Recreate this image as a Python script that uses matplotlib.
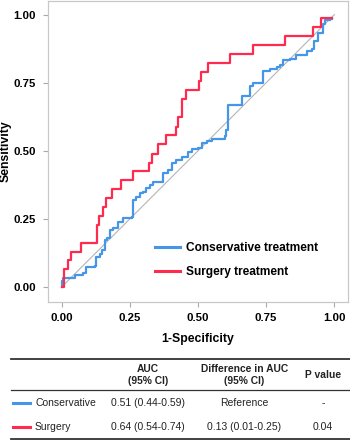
import matplotlib
matplotlib.use("Agg")
import matplotlib.pyplot as plt
from matplotlib.lines import Line2D

plt.rcParams['font.family'] = ['Liberation Sans', 'DejaVu Sans']

# ROC curve corners (x = 1-specificity, y = sensitivity after each riser)
cons_fpr = [0, 0, 0.005, 0.05, 0.078, 0.088, 0.121, 0.125, 0.14, 0.148, 0.158, 0.167,
            0.176, 0.189, 0.207, 0.225, 0.258, 0.261, 0.274, 0.287, 0.297, 0.311, 0.324,
            0.336, 0.372, 0.391, 0.403, 0.421, 0.44, 0.465, 0.477, 0.501, 0.514, 0.532,
            0.55, 0.599, 0.603, 0.611, 0.66, 0.689, 0.703, 0.738, 0.765, 0.789, 0.801,
            0.811, 0.838, 0.86, 0.9, 0.918, 0.926, 0.939, 0.958, 0.967, 0.985, 0.99]
cons_tpr = [0, 0.023, 0.032, 0.044, 0.053, 0.072, 0.078, 0.111, 0.12, 0.136, 0.173, 0.179,
            0.21, 0.216, 0.24, 0.252, 0.258, 0.32, 0.332, 0.344, 0.35, 0.363, 0.375,
            0.384, 0.418, 0.43, 0.455, 0.467, 0.479, 0.497, 0.506, 0.51, 0.528, 0.537,
            0.543, 0.555, 0.577, 0.669, 0.70, 0.737, 0.749, 0.792, 0.80, 0.806, 0.816,
            0.835, 0.837, 0.853, 0.865, 0.874, 0.902, 0.933, 0.967, 0.979, 0.984, 0.984]

surg_fpr = [0, 0.007, 0.023, 0.033, 0.07, 0.131, 0.136, 0.152, 0.162, 0.185, 0.219, 0.262,
            0.32, 0.33, 0.355, 0.381, 0.418, 0.428, 0.44, 0.456, 0.505, 0.51, 0.536,
            0.618, 0.70, 0.82, 0.92, 0.95, 0.99]
surg_tpr = [0, 0.065, 0.098, 0.13, 0.163, 0.228, 0.26, 0.293, 0.326, 0.359, 0.393, 0.426,
            0.457, 0.49, 0.526, 0.559, 0.589, 0.624, 0.69, 0.722, 0.755, 0.789, 0.822,
            0.855, 0.887, 0.92, 0.953, 0.988, 0.988]

ticks = [0, 0.25, 0.5, 0.75, 1.0]
tick_labels = ['0.00', '0.25', '0.50', '0.75', '1.00']

legend_labels = ['Conservative treatment', 'Surgery treatment']
table_header = ['AUC\n(95% CI)', 'Difference in AUC\n(95% CI)', 'P value']
table_groups = ['Conservative', 'Surgery']
table_auc = ['0.51 (0.44-0.59)', '0.64 (0.54-0.74)']
table_diff = ['Reference', '0.13 (0.01-0.25)']
table_p = ['-', '0.04']

blue = '#4596e6'
red = '#ff2b4f'

W, H = 350, 440
fig = plt.figure(figsize=(3.5, 4.4), dpi=100)

def fx(px):
    return px / W

def fy(py):
    return 1 - py / H

ax = fig.add_axes([fx(48), fy(302), fx(348) - fx(48), fy(1) - fy(302)])
ax.plot([0, 1], [0, 1], color='#b4b4b4', lw=0.8)
ax.plot(cons_fpr, cons_tpr, drawstyle='steps-post', color=blue, lw=1.6)
ax.plot(surg_fpr, surg_tpr, drawstyle='steps-post', color=red, lw=1.6)
ax.set_xlim(-0.05, 1.05)
ax.set_ylim(-0.055, 1.05)
ax.set_xticks(ticks)
ax.set_xticklabels(tick_labels)
ax.set_yticks(ticks)
ax.set_yticklabels(tick_labels)
for s in ax.spines.values():
    s.set_color('#c8c8c8')
    s.set_linewidth(0.9)
ax.tick_params(axis='both', color='#aaaaaa', length=3.5, width=0.8, labelsize=8.2)
ax.tick_params(axis='y', pad=5)
ax.tick_params(axis='x', pad=4.5)
for lab in ax.get_xticklabels() + ax.get_yticklabels():
    lab.set_fontweight('bold')
ax.set_xlabel('1-Specificity', fontsize=8.8, fontweight='bold', labelpad=7)
ax.set_ylabel('Sensitivity', fontsize=8.8, fontweight='bold', labelpad=1.5)

handles = [Line2D([], [], color=blue, lw=2.2), Line2D([], [], color=red, lw=2.2)]
ax.legend(handles, legend_labels, loc='center left', bbox_to_anchor=(0.338, 0.14),
          frameon=False, borderpad=0, handlelength=2.1, handletextpad=0.5,
          labelspacing=1.0, prop={'size': 8.6, 'weight': 'bold'})

# table under the chart
txt = '#222222'
fig.add_artist(Line2D([fx(11), fx(350)], [fy(359), fy(359)], color='#333333', lw=1.3))
fig.add_artist(Line2D([fx(11), fx(350)], [fy(390), fy(390)], color='#333333', lw=0.9))
fig.add_artist(Line2D([fx(11), fx(350)], [fy(439), fy(439)], color='#333333', lw=1.3))

col_x = [148, 244.5, 323]
for cx, h in zip(col_x, table_header):
    fig.text(fx(cx), fy(375), h, ha='center', va='center', fontsize=7.4,
             fontweight='bold', color=txt, linespacing=1.15)

row_y = [403, 427]
row_colors = [blue, red]
for i, ry in enumerate(row_y):
    fig.add_artist(Line2D([fx(13), fx(30)], [fy(ry), fy(ry)], color=row_colors[i], lw=2.2))
    fig.text(fx(35), fy(ry), table_groups[i], ha='left', va='center', fontsize=7.5, color=txt)
    fig.text(fx(col_x[0]), fy(ry), table_auc[i], ha='center', va='center', fontsize=7.5, color=txt)
    fig.text(fx(col_x[1]), fy(ry), table_diff[i], ha='center', va='center', fontsize=7.5, color=txt)
    fig.text(fx(col_x[2]), fy(ry), table_p[i], ha='center', va='center', fontsize=7.5, color=txt)

fig.savefig('out.png', dpi=100)
